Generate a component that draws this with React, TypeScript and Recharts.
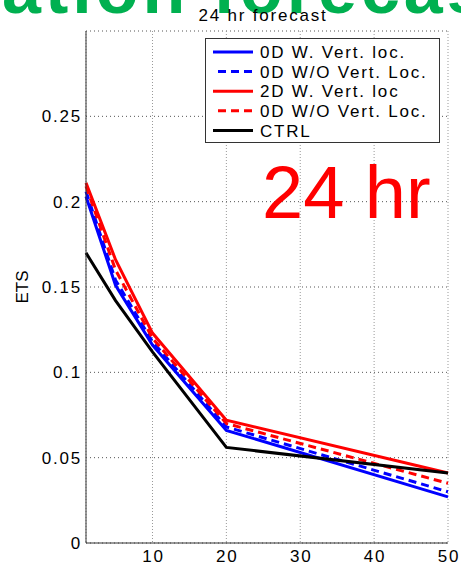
import { LineChart, Line, XAxis, YAxis, CartesianGrid } from "recharts";

const thresholds = [1, 5, 10, 20, 50];
const od0WithVert = [0.203, 0.151, 0.116, 0.066, 0.027];
const od0WithoutVert = [0.206, 0.154, 0.118, 0.068, 0.03];
const od2WithVert = [0.211, 0.166, 0.123, 0.072, 0.041];
const od0WithoutVertRed = [0.209, 0.16, 0.12, 0.07, 0.035];
const ctrl = [0.17, 0.142, 0.112, 0.056, 0.041];

const xTicks = [10, 20, 30, 40, 50];
const yTicks = [0, 0.05, 0.1, 0.15, 0.2, 0.25];
const seriesLabels = [
  "0D W. Vert. loc.",
  "0D W/O Vert. Loc.",
  "2D W. Vert. loc",
  "0D W/O Vert. Loc.",
  "CTRL",
];

const data = thresholds.map((t, i) => ({
  t,
  a: od0WithVert[i],
  b: od0WithoutVert[i],
  c: od2WithVert[i],
  d: od0WithoutVertRed[i],
  e: ctrl[i],
}));

const SERIES = [
  { key: "a", name: seriesLabels[0], color: "#0000ff", dash: undefined },
  { key: "b", name: seriesLabels[1], color: "#0000ff", dash: "8 5" },
  { key: "c", name: seriesLabels[2], color: "#ff0000", dash: undefined },
  { key: "d", name: seriesLabels[3], color: "#ff0000", dash: "8 5" },
  { key: "e", name: seriesLabels[4], color: "#000000", dash: undefined },
];

const FONT = "'Liberation Sans', Arial, Helvetica, sans-serif";
const SPACING = 1.8;

function XTick({ x, y, payload }: any) {
  return (
    <text x={x + SPACING / 2} y={y + 19} textAnchor="middle" fontSize={17} fontFamily={FONT} fill="#000" letterSpacing={SPACING}>
      {payload.value}
    </text>
  );
}

function YTick({ x, y, payload }: any) {
  return (
    <text x={x - 4} y={y} dy="0.36em" textAnchor="end" fontSize={17} fontFamily={FONT} fill="#000" letterSpacing={SPACING}>
      {String(payload.value)}
    </text>
  );
}

// matlab-style boxed legend, drawn on top of the axes
function LegendBox({ x, y }: { x: number; y: number }) {
  const rowH = 19.6;
  return (
    <g transform={`translate(${x},${y})`}>
      <rect x={0.5} y={0.5} width={234} height={104} fill="#fff" stroke="#333" strokeWidth={1} />
      {SERIES.map((s, i) => {
        const cy = 14 + i * rowH;
        return (
          <g key={s.key}>
            <line
              x1={s.dash ? 13 : 8}
              x2={48}
              y1={cy}
              y2={cy}
              stroke={s.color}
              strokeWidth={3}
              strokeDasharray={s.dash}
            />
            <text x={55} y={cy} dy="0.36em" fontSize={17} fontFamily={FONT} fill="#000" letterSpacing={SPACING}>
              {s.name}
            </text>
          </g>
        );
      })}
    </g>
  );
}

export default function App() {
  return (
    <div
      style={{
        position: "absolute",
        left: 0,
        top: 0,
        width: 461,
        height: 566,
        overflow: "hidden",
        background: "#fff",
        fontFamily: FONT,
      }}
    >
      <LineChart width={461} height={566} data={data} margin={{ top: 31, right: 13, left: 0, bottom: 0 }}>
        <CartesianGrid vertical={false} stroke="#555" strokeDasharray="1 3" />
        <CartesianGrid horizontal={false} stroke="#999" strokeDasharray="1 2" />
        <XAxis
          type="number"
          dataKey="t"
          domain={[1, 50]}
          ticks={xTicks}
          height={23}
          tickLine={false}
          tickSize={0}
          tickMargin={0}
          tick={<XTick />}
          axisLine={{ stroke: "#333" }}
          interval={0}
        />
        <YAxis
          type="number"
          domain={[0, 0.3]}
          ticks={yTicks}
          width={86}
          tickLine={false}
          tickSize={0}
          tickMargin={0}
          tick={<YTick />}
          axisLine={{ stroke: "#333" }}
          interval={0}
          label={{
            value: "ETS",
            angle: -90,
            position: "insideLeft",
            offset: 22,
            style: { fontSize: 17, fontFamily: FONT, fill: "#000", textAnchor: "middle" },
          }}
        />
        {SERIES.map((s) => (
          <Line
            key={s.key}
            type="linear"
            dataKey={s.key}
            name={s.name}
            stroke={s.color}
            strokeWidth={3}
            strokeDasharray={s.dash}
            dot={false}
            activeDot={false}
            isAnimationActive={false}
          />
        ))}
      </LineChart>
      <svg
        width={461}
        height={566}
        style={{ position: "absolute", left: 0, top: 0, pointerEvents: "none" }}
      >
        <text x={2} y={13} fontSize={70} fontWeight="bold" fontFamily={FONT} fill="#00b050" letterSpacing={4}>
          ation forecast
        </text>
        <text x={263} y={21} textAnchor="middle" fontSize={17} fontFamily={FONT} fill="#000" letterSpacing={SPACING}>
          24 hr forecast
        </text>
        <LegendBox x={205} y={38} />
        <text x={262} y={218} fontSize={74} fontFamily={FONT} fill="#ff0000">
          24 hr
        </text>
      </svg>
    </div>
  );
}
